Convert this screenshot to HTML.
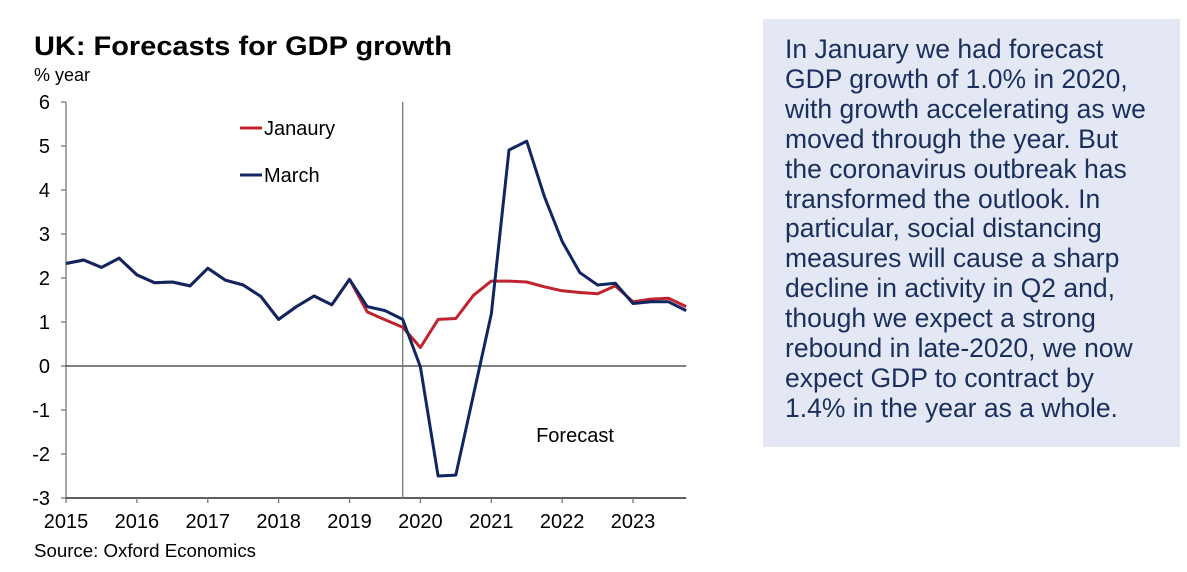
<!DOCTYPE html>
<html><head><meta charset="utf-8"><style>
body{margin:0;width:1187px;height:572px;background:#fff;overflow:hidden;font-family:"Liberation Sans",Arial,sans-serif;}
#box{position:absolute;left:763px;top:19px;width:417px;height:428px;background:#e4e8f4;}
#box p{margin:0;position:absolute;left:22px;top:16px;width:395px;font-size:26.5px;line-height:29.9px;color:#1a2f5e;white-space:nowrap;}
</style></head><body>
<svg id="chart" width="760" height="572" style="position:absolute;left:0;top:0" font-family="Liberation Sans, Arial, sans-serif"></svg>
<div id="box"><p>In January we had forecast<br>GDP growth of 1.0% in 2020,<br>with growth accelerating as we<br>moved through the year. But<br>the coronavirus outbreak has<br>transformed the outlook. In<br>particular, social distancing<br>measures will cause a sharp<br>decline in activity in Q2 and,<br>though we expect a strong<br>rebound in late-2020, we now<br>expect GDP to contract by<br>1.4% in the year as a whole.</p></div>
<script>
const years = ["2015","2016","2017","2018","2019","2020","2021","2022","2023"];
const yTicks = [6,5,4,3,2,1,0,-1,-2,-3];
const march = [2.33,2.41,2.24,2.45,2.07,1.89,1.91,1.82,2.22,1.95,1.84,1.58,1.06,1.35,1.59,1.39,1.97,1.35,1.26,1.06,-0.02,-2.5,-2.48,-0.64,1.18,4.91,5.11,3.85,2.83,2.12,1.84,1.88,1.42,1.46,1.46,1.26];
const january = [2.33,2.41,2.24,2.45,2.07,1.89,1.91,1.82,2.22,1.95,1.84,1.58,1.06,1.35,1.59,1.39,1.97,1.23,1.05,0.88,0.42,1.06,1.08,1.61,1.93,1.93,1.91,1.80,1.71,1.67,1.64,1.82,1.46,1.52,1.54,1.35];
const forecastStart = 19;

const svg = document.getElementById('chart');
const NS = 'http://www.w3.org/2000/svg';
const X0 = 66, QW = 17.72, Y0 = 366, YU = 44;
const xq = i => X0 + i * QW;
const yv = v => Y0 - v * YU;
function mk(tag, attrs, text){
  const e = document.createElementNS(NS, tag);
  for (const k in attrs) e.setAttribute(k, attrs[k]);
  if (text !== undefined) e.textContent = text;
  svg.appendChild(e);
  return e;
}
let t;
t = mk('text',{x:34,y:55,'font-size':27,'font-weight':'bold',fill:'#000',textLength:418,lengthAdjust:'spacingAndGlyphs'},'UK: Forecasts for GDP growth');


t = mk('text',{x:34,y:81,'font-size':18,fill:'#000'},'% year');


t = mk('text',{x:34,y:557,'font-size':18,fill:'#000',textLength:222,lengthAdjust:'spacingAndGlyphs'},'Source: Oxford Economics');



t = mk('line',{x1:X0,y1:yv(6),x2:X0,y2:yv(-3),stroke:'#777','stroke-width':1.3});


yTicks.forEach(v=>{
  const l = mk('line',{x1:X0-5,y1:yv(v),x2:X0,y2:yv(v),stroke:'#777','stroke-width':1.3});
  
  
  const tx = mk('text',{x:50,y:yv(v)+7,'font-size':20,'text-anchor':'end',fill:'#000'},String(v));
  
  
});
t = mk('line',{x1:X0,y1:yv(0),x2:xq(35),y2:yv(0),stroke:'#000','stroke-width':1});


t = mk('line',{x1:X0,y1:yv(-3),x2:xq(35),y2:yv(-3),stroke:'#000','stroke-width':1.3});


years.forEach((yr,k)=>{
  const x = xq(k*4);
  const l = mk('line',{x1:x,y1:yv(-3),x2:x,y2:yv(-3)+5,stroke:'#777','stroke-width':1.3});
  
  
  const tx = mk('text',{x:x,y:528,'font-size':20,'text-anchor':'middle',fill:'#000'},yr);
  
  
});
t = mk('line',{x1:xq(forecastStart),y1:yv(6),x2:xq(forecastStart),y2:yv(-3),stroke:'#777','stroke-width':1.3});


t = mk('text',{x:575,y:442,'font-size':20,'text-anchor':'middle',fill:'#000'},'Forecast');



const pts = arr => arr.map((v,i)=>xq(i).toFixed(1)+','+yv(v).toFixed(1)).join(' ');
t = mk('polyline',{points:pts(january),fill:'none',stroke:'#c0232e','stroke-width':3,'stroke-linejoin':'round'});


t = mk('polyline',{points:pts(march),fill:'none',stroke:'#0f2660','stroke-width':3,'stroke-linejoin':'round'});



t = mk('line',{x1:240,y1:128,x2:262,y2:128,stroke:'#c0232e','stroke-width':3});


t = mk('text',{x:264,y:135,'font-size':20,fill:'#000'},'Janaury');


t = mk('line',{x1:240,y1:175,x2:262,y2:175,stroke:'#0f2660','stroke-width':3});


t = mk('text',{x:264,y:182,'font-size':20,fill:'#000'},'March');


</script>
</body></html>
